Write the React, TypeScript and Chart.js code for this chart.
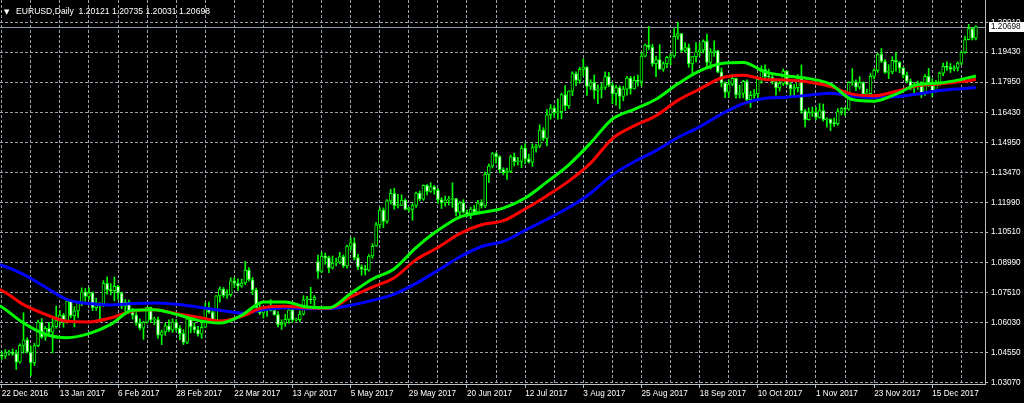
import React, { useEffect, useRef } from "react";
import { Chart, registerables } from "chart.js";

Chart.register(...registerables);

// ---------- DATA ----------
const symbolTitle = "EURUSD,Daily";

// date labels shown every 16 bars (first bar = 22 Dec 2016)
const xLabels = [
  "22 Dec 2016", "13 Jan 2017", "6 Feb 2017", "28 Feb 2017", "22 Mar 2017", "13 Apr 2017",
  "5 May 2017", "29 May 2017", "20 Jun 2017", "12 Jul 2017", "3 Aug 2017", "25 Aug 2017",
  "18 Sep 2017", "10 Oct 2017", "1 Nov 2017", "23 Nov 2017", "15 Dec 2017",
];
const barsPerLabel = 16;
const barsPerGrid = 8;

const yTickLabels = [
  "1.03070", "1.04550", "1.06030", "1.07510", "1.08990", "1.10510", "1.11990",
  "1.13470", "1.14950", "1.16430", "1.17950", "1.19430", "1.20910",
];

const opens = [
  1.0440, 1.0437, 1.0453, 1.0456, 1.0449, 1.0407, 1.0490, 1.0517, 1.0457, 1.0404,
  1.0489, 1.0605, 1.0531, 1.0574, 1.0556, 1.0583, 1.0613, 1.0640, 1.0605, 1.0710,
  1.0637, 1.0661, 1.0703, 1.0755, 1.0733, 1.0751, 1.0677, 1.0697, 1.0696, 1.0798,
  1.0765, 1.0761, 1.0783, 1.0749, 1.0684, 1.0703, 1.0655, 1.0640, 1.0600, 1.0575,
  1.0605, 1.0678, 1.0616, 1.0618, 1.0540, 1.0557, 1.0587, 1.0565, 1.0605, 1.0574,
  1.0548, 1.0505, 1.0622, 1.0583, 1.0567, 1.0545, 1.0580, 1.0671, 1.0655, 1.0604,
  1.0735, 1.0769, 1.0737, 1.0741, 1.0810, 1.0798, 1.0783, 1.0799, 1.0863, 1.0815,
  1.0765, 1.0677, 1.0650, 1.0667, 1.0674, 1.0662, 1.0642, 1.0592, 1.0600, 1.0619,
  1.0666, 1.0615, 1.0617, 1.0645, 1.0716, 1.0717, 1.0715, 1.0905, 1.0857, 1.0932,
  1.0925, 1.0874, 1.0898, 1.0902, 1.0930, 1.0884, 1.0982, 1.0998, 1.0925, 1.0877,
  1.0869, 1.0863, 1.0933, 1.0981, 1.1087, 1.1160, 1.1104, 1.1206, 1.1243, 1.1182,
  1.1184, 1.1210, 1.1164, 1.1164, 1.1183, 1.1245, 1.1214, 1.1283, 1.1253, 1.1277,
  1.1260, 1.1212, 1.1196, 1.1210, 1.1214, 1.1217, 1.1150, 1.1197, 1.1150, 1.1133,
  1.1165, 1.1151, 1.1196, 1.1181, 1.1337, 1.1379, 1.1441, 1.1425, 1.1361, 1.1346,
  1.1352, 1.1424, 1.1400, 1.1401, 1.1468, 1.1414, 1.1398, 1.1470, 1.1478, 1.1557,
  1.1516, 1.1633, 1.1666, 1.1643, 1.1648, 1.1733, 1.1677, 1.1750, 1.1837, 1.1803,
  1.1858, 1.1869, 1.1773, 1.1792, 1.1754, 1.1760, 1.1768, 1.1822, 1.1780, 1.1737,
  1.1768, 1.1724, 1.1760, 1.1814, 1.1761, 1.1803, 1.1798, 1.1923, 1.1978, 1.1968,
  1.1886, 1.1906, 1.1859, 1.1886, 1.1917, 1.1925, 1.2022, 1.2035, 1.1952, 1.1966,
  1.1885, 1.1921, 1.1945, 1.1953, 1.1997, 1.1892, 1.1943, 1.1950, 1.1845, 1.1791,
  1.1745, 1.1785, 1.1813, 1.1732, 1.1738, 1.1799, 1.1708, 1.1729, 1.1737, 1.1808,
  1.1858, 1.1822, 1.1820, 1.1796, 1.1766, 1.1788, 1.1849, 1.1783, 1.1761, 1.1767,
  1.1813, 1.1652, 1.1609, 1.1644, 1.1646, 1.1620, 1.1654, 1.1608, 1.1610, 1.1590,
  1.1589, 1.1649, 1.1664, 1.1660, 1.1794, 1.1796, 1.1770, 1.1792, 1.1735, 1.1737,
  1.1823, 1.1853, 1.1934, 1.1897, 1.1843, 1.1845, 1.1903, 1.1893, 1.1865, 1.1829,
  1.1798, 1.1771, 1.1774, 1.1780, 1.1742, 1.1823, 1.1780, 1.1749, 1.1784, 1.1839,
  1.1873, 1.1868, 1.1859, 1.1865, 1.1889, 1.1942, 1.2005, 1.2060, 1.20121,
];

const highs = [
  1.0460, 1.0469, 1.0465, 1.0472, 1.0467, 1.0498, 1.0652, 1.0528, 1.0485, 1.0500,
  1.0615, 1.0623, 1.0584, 1.0604, 1.0629, 1.0685, 1.0663, 1.0648, 1.0718, 1.0714,
  1.0682, 1.0708, 1.0775, 1.0772, 1.0775, 1.0755, 1.0724, 1.0701, 1.0811, 1.0829,
  1.0796, 1.0829, 1.0788, 1.0754, 1.0717, 1.0715, 1.0674, 1.0652, 1.0621, 1.0609,
  1.0679, 1.0680, 1.0630, 1.0630, 1.0566, 1.0600, 1.0617, 1.0622, 1.0618, 1.0588,
  1.0568, 1.0630, 1.0623, 1.0601, 1.0584, 1.0615, 1.0700, 1.0704, 1.0668, 1.0737,
  1.0780, 1.0777, 1.0765, 1.0825, 1.0826, 1.0820, 1.0818, 1.0906, 1.0875, 1.0827,
  1.0774, 1.0692, 1.0680, 1.0677, 1.0717, 1.0687, 1.0658, 1.0617, 1.0644, 1.0673,
  1.0677, 1.0625, 1.0661, 1.0736, 1.0733, 1.0778, 1.0737, 1.0937, 1.0951, 1.0947,
  1.0932, 1.0933, 1.0923, 1.0951, 1.0938, 1.0987, 1.1022, 1.1023, 1.0941, 1.0889,
  1.0887, 1.0940, 1.0994, 1.1100, 1.1172, 1.1171, 1.1213, 1.1264, 1.1268, 1.1238,
  1.1236, 1.1216, 1.1174, 1.1193, 1.1250, 1.1255, 1.1285, 1.1287, 1.1296, 1.1282,
  1.1268, 1.1222, 1.1230, 1.1228, 1.1296, 1.1219, 1.1204, 1.1212, 1.1162, 1.1175,
  1.1183, 1.1209, 1.1212, 1.1349, 1.1389, 1.1446, 1.1445, 1.1430, 1.1370, 1.1369,
  1.1433, 1.1443, 1.1422, 1.1480, 1.1490, 1.1438, 1.1489, 1.1486, 1.1583, 1.1569,
  1.1658, 1.1683, 1.1678, 1.1712, 1.1740, 1.1777, 1.1752, 1.1846, 1.1845, 1.1868,
  1.1910, 1.1871, 1.1806, 1.1830, 1.1781, 1.1789, 1.1846, 1.1843, 1.1792, 1.1779,
  1.1776, 1.1774, 1.1823, 1.1823, 1.1823, 1.1829, 1.1941, 1.1983, 1.2070, 1.1982,
  1.1924, 1.1980, 1.1895, 1.1922, 1.1937, 1.2060, 1.2092, 1.2036, 1.1991, 1.1983,
  1.1922, 1.1990, 1.1990, 1.2004, 1.2033, 1.1960, 1.1999, 1.1952, 1.1865, 1.1796,
  1.1807, 1.1833, 1.1815, 1.1779, 1.1803, 1.1806, 1.1749, 1.1758, 1.1820, 1.1875,
  1.1880, 1.1859, 1.1838, 1.1806, 1.1805, 1.1860, 1.1850, 1.1792, 1.1782, 1.1832,
  1.1880, 1.1660, 1.1667, 1.1671, 1.1670, 1.1688, 1.1686, 1.1617, 1.1613, 1.1616,
  1.1663, 1.1668, 1.1670, 1.1797, 1.1861, 1.1806, 1.1822, 1.1796, 1.1760, 1.1837,
  1.1861, 1.1937, 1.1961, 1.1906, 1.1881, 1.1921, 1.1941, 1.1897, 1.1868, 1.1844,
  1.1810, 1.1794, 1.1800, 1.1797, 1.1832, 1.1862, 1.1811, 1.1803, 1.1845, 1.1889,
  1.1895, 1.1887, 1.1876, 1.1895, 1.1946, 1.2023, 1.2081, 1.2066, 1.20735,
];

const lows = [
  1.0420, 1.0425, 1.0441, 1.0440, 1.0371, 1.0402, 1.0452, 1.0453, 1.0340, 1.0390,
  1.0483, 1.0524, 1.0515, 1.0540, 1.0453, 1.0575, 1.0592, 1.0580, 1.0600, 1.0627,
  1.0582, 1.0629, 1.0686, 1.0709, 1.0718, 1.0662, 1.0663, 1.0618, 1.0683, 1.0744,
  1.0740, 1.0710, 1.0718, 1.0672, 1.0646, 1.0650, 1.0620, 1.0590, 1.0566, 1.0520,
  1.0600, 1.0604, 1.0592, 1.0525, 1.0494, 1.0540, 1.0558, 1.0554, 1.0560, 1.0518,
  1.0494, 1.0499, 1.0552, 1.0553, 1.0536, 1.0525, 1.0580, 1.0648, 1.0600, 1.0600,
  1.0704, 1.0728, 1.0723, 1.0733, 1.0778, 1.0761, 1.0778, 1.0791, 1.0808, 1.0741,
  1.0674, 1.0642, 1.0625, 1.0633, 1.0660, 1.0639, 1.0581, 1.0569, 1.0584, 1.0600,
  1.0606, 1.0610, 1.0608, 1.0640, 1.0687, 1.0697, 1.0680, 1.0822, 1.0850, 1.0892,
  1.0850, 1.0868, 1.0884, 1.0894, 1.0875, 1.0872, 1.0960, 1.0913, 1.0865, 1.0838,
  1.0839, 1.0858, 1.0922, 1.0980, 1.1070, 1.1074, 1.1095, 1.1190, 1.1164, 1.1171,
  1.1183, 1.1161, 1.1153, 1.1110, 1.1174, 1.1207, 1.1209, 1.1235, 1.1248, 1.1239,
  1.1194, 1.1168, 1.1180, 1.1185, 1.1174, 1.1131, 1.1132, 1.1146, 1.1130, 1.1118,
  1.1137, 1.1148, 1.1170, 1.1173, 1.1297, 1.1369, 1.1393, 1.1345, 1.1335, 1.1312,
  1.1347, 1.1379, 1.1384, 1.1371, 1.1391, 1.1394, 1.1376, 1.1447, 1.1471, 1.1505,
  1.1478, 1.1611, 1.1621, 1.1611, 1.1613, 1.1653, 1.1664, 1.1728, 1.1777, 1.1789,
  1.1826, 1.1729, 1.1758, 1.1712, 1.1688, 1.1716, 1.1757, 1.1772, 1.1688, 1.1680,
  1.1662, 1.1702, 1.1730, 1.1735, 1.1760, 1.1775, 1.1774, 1.1920, 1.1955, 1.1873,
  1.1822, 1.1857, 1.1848, 1.1866, 1.1880, 1.1916, 1.2007, 1.1944, 1.1943, 1.1868,
  1.1838, 1.1895, 1.1924, 1.1939, 1.1862, 1.1860, 1.1922, 1.1840, 1.1771, 1.1717,
  1.1720, 1.1777, 1.1715, 1.1715, 1.1717, 1.1696, 1.1669, 1.1714, 1.1716, 1.1789,
  1.1810, 1.1814, 1.1785, 1.1730, 1.1750, 1.1777, 1.1780, 1.1717, 1.1725, 1.1747,
  1.1640, 1.1573, 1.1606, 1.1625, 1.1608, 1.1616, 1.1601, 1.1573, 1.1554, 1.1575,
  1.1580, 1.1632, 1.1629, 1.1655, 1.1778, 1.1752, 1.1760, 1.1722, 1.1715, 1.1730,
  1.1810, 1.1843, 1.1892, 1.1838, 1.1812, 1.1835, 1.1849, 1.1841, 1.1815, 1.1790,
  1.1756, 1.1729, 1.1758, 1.1718, 1.1729, 1.1772, 1.1723, 1.1745, 1.1778, 1.1826,
  1.1853, 1.1842, 1.1850, 1.1850, 1.1880, 1.1937, 1.2004, 1.2003, 1.20031,
];

const closes = [
  1.0437, 1.0453, 1.0456, 1.0449, 1.0407, 1.0490, 1.0517, 1.0457, 1.0404, 1.0489,
  1.0605, 1.0531, 1.0574, 1.0556, 1.0583, 1.0613, 1.0640, 1.0605, 1.0710, 1.0637,
  1.0661, 1.0703, 1.0755, 1.0733, 1.0751, 1.0677, 1.0697, 1.0696, 1.0798, 1.0765,
  1.0761, 1.0783, 1.0749, 1.0684, 1.0703, 1.0655, 1.0640, 1.0600, 1.0575, 1.0605,
  1.0678, 1.0616, 1.0618, 1.0540, 1.0557, 1.0587, 1.0565, 1.0605, 1.0574, 1.0548,
  1.0505, 1.0622, 1.0583, 1.0567, 1.0545, 1.0580, 1.0671, 1.0655, 1.0604, 1.0735,
  1.0769, 1.0737, 1.0741, 1.0810, 1.0798, 1.0783, 1.0799, 1.0863, 1.0815, 1.0765,
  1.0677, 1.0650, 1.0667, 1.0674, 1.0662, 1.0642, 1.0592, 1.0600, 1.0619, 1.0666,
  1.0615, 1.0617, 1.0645, 1.0716, 1.0717, 1.0715, 1.0728, 1.0857, 1.0932, 1.0925,
  1.0874, 1.0898, 1.0902, 1.0930, 1.0884, 1.0982, 1.0998, 1.0925, 1.0877, 1.0869,
  1.0863, 1.0933, 1.0981, 1.1087, 1.1160, 1.1104, 1.1206, 1.1243, 1.1182, 1.1184,
  1.1210, 1.1164, 1.1164, 1.1183, 1.1245, 1.1214, 1.1283, 1.1253, 1.1277, 1.1260,
  1.1212, 1.1196, 1.1210, 1.1214, 1.1217, 1.1150, 1.1197, 1.1150, 1.1133, 1.1165,
  1.1151, 1.1196, 1.1181, 1.1337, 1.1379, 1.1441, 1.1425, 1.1361, 1.1346, 1.1352,
  1.1424, 1.1400, 1.1401, 1.1468, 1.1414, 1.1398, 1.1470, 1.1478, 1.1557, 1.1516,
  1.1633, 1.1666, 1.1643, 1.1648, 1.1733, 1.1677, 1.1750, 1.1837, 1.1803, 1.1858,
  1.1869, 1.1773, 1.1792, 1.1754, 1.1760, 1.1768, 1.1822, 1.1780, 1.1737, 1.1768,
  1.1724, 1.1760, 1.1814, 1.1761, 1.1803, 1.1798, 1.1923, 1.1978, 1.1968, 1.1886,
  1.1906, 1.1859, 1.1886, 1.1917, 1.1925, 1.2022, 1.2035, 1.1952, 1.1966, 1.1885,
  1.1921, 1.1945, 1.1953, 1.1997, 1.1892, 1.1943, 1.1950, 1.1845, 1.1791, 1.1745,
  1.1785, 1.1813, 1.1732, 1.1738, 1.1799, 1.1708, 1.1729, 1.1737, 1.1808, 1.1858,
  1.1822, 1.1820, 1.1796, 1.1766, 1.1788, 1.1849, 1.1783, 1.1761, 1.1767, 1.1813,
  1.1652, 1.1609, 1.1644, 1.1646, 1.1620, 1.1654, 1.1608, 1.1610, 1.1590, 1.1589,
  1.1649, 1.1664, 1.1660, 1.1794, 1.1796, 1.1770, 1.1792, 1.1735, 1.1737, 1.1823,
  1.1853, 1.1934, 1.1897, 1.1843, 1.1845, 1.1903, 1.1893, 1.1865, 1.1829, 1.1798,
  1.1771, 1.1774, 1.1780, 1.1742, 1.1823, 1.1780, 1.1749, 1.1784, 1.1839, 1.1873,
  1.1868, 1.1859, 1.1865, 1.1889, 1.1942, 1.2005, 1.2060, 1.2012, 1.20698,
];

// moving averages at these bar numbers
const maBars = [
  -1, 0, 6, 12, 18, 24, 30, 36, 42, 48, 54, 60, 66, 72, 78, 84, 90, 96, 102, 108,
  114, 120, 126, 132, 138, 144, 150, 156, 162, 168, 174, 180, 186, 192, 198, 204,
  210, 216, 222, 228, 234, 240, 246, 252, 258, 264, 268,
];
const maBlue = [
  1.0892, 1.0887, 1.0842, 1.0779, 1.0717, 1.0697, 1.0690, 1.0697, 1.0700, 1.0694,
  1.0680, 1.0664, 1.0650, 1.0667, 1.0677, 1.0672, 1.0672, 1.0689, 1.0713, 1.0744,
  1.0797, 1.0862, 1.0928, 1.0980, 1.1005, 1.1060, 1.1115, 1.1173, 1.1244, 1.1335,
  1.1400, 1.1455, 1.1520, 1.1573, 1.1636, 1.1688, 1.1715, 1.1720, 1.1730, 1.1740,
  1.1726, 1.1718, 1.1722, 1.1736, 1.1753, 1.1762, 1.1768,
];
const maRed = [
  1.0768, 1.0763, 1.0692, 1.0644, 1.0609, 1.0606, 1.0626, 1.0660, 1.0667, 1.0647,
  1.0630, 1.0611, 1.0634, 1.0677, 1.0684, 1.0677, 1.0674, 1.0730, 1.0779, 1.0825,
  1.0915, 1.0975, 1.1044, 1.1088, 1.1108, 1.1166, 1.1232, 1.1304, 1.1393, 1.1515,
  1.1578, 1.1628, 1.1704, 1.1760, 1.1815, 1.1828, 1.1808, 1.1805, 1.1795, 1.1772,
  1.1735, 1.1727, 1.1749, 1.1776, 1.1785, 1.1797, 1.1808,
];
const maGreen = [
  1.0689, 1.0680, 1.0601, 1.0545, 1.0528, 1.0548, 1.0594, 1.0664, 1.0667, 1.0644,
  1.0614, 1.0601, 1.0639, 1.0705, 1.0705, 1.0680, 1.0676, 1.0747, 1.0819, 1.0870,
  1.0975, 1.1060, 1.1126, 1.1148, 1.1170, 1.1220, 1.1300, 1.1385, 1.1493, 1.1612,
  1.1660, 1.1710, 1.1786, 1.1850, 1.1887, 1.1892, 1.1845, 1.1825, 1.1812, 1.1785,
  1.1708, 1.1700, 1.1735, 1.1783, 1.1790, 1.1808, 1.1825,
];

// ---------- STYLE ----------
const FONT = '"Liberation Sans", Arial, "DejaVu Sans", sans-serif';
const GRID = "#9aa3ad";
const AXIS = "#b8c0c8";
const LIME = "#00ff00";

const fmt = (v: number) => v.toFixed(5);

export default function App() {
  const ref = useRef<HTMLCanvasElement | null>(null);

  useEffect(() => {
    document.body.style.margin = "0";
    document.body.style.background = "#000";
    const canvas = ref.current;
    if (!canvas) return;

    const n = closes.length;
    const idx = closes.map((_, i) => i);
    const wickData = idx.map((i) => ({ x: i, y: [lows[i], highs[i]] }));
    const bodyData = idx.map((i) => ({ x: i, y: [opens[i], closes[i]] }));
    const bodyFill = idx.map((i) => (closes[i] >= opens[i] ? "#000000" : "#ffffff"));
    const maLine = (vals: number[]) => maBars.map((b, k) => ({ x: b, y: vals[k] }));
    const gridBars: number[] = [];
    for (let b = 0; b < n; b += barsPerGrid) gridBars.push(b);
    const yTickValues = yTickLabels.map((s) => parseFloat(s));

    const overlay = {
      id: "mt4Overlay",
      beforeDatasetsDraw(chart: any) {
        const { ctx, chartArea, scales } = chart;
        const py = Math.round(scales.y.getPixelForValue(closes[n - 1])) + 0.5;
        ctx.save();
        ctx.strokeStyle = "#8d99a6";
        ctx.lineWidth = 1;
        ctx.beginPath();
        ctx.moveTo(chartArea.left, py);
        ctx.lineTo(chartArea.right, py);
        ctx.stroke();
        ctx.restore();
      },
      afterDraw(chart: any) {
        const { ctx, chartArea, scales } = chart;
        const last = n - 1;
        ctx.save();
        ctx.fillStyle = "#ffffff";
        ctx.textBaseline = "alphabetic";
        ctx.font = `7px "DejaVu Sans", sans-serif`;
        ctx.fillText("\u25BC", 4, 13.5);
        ctx.font = `8.6px ${FONT}`;
        ctx.fillText(
          `${symbolTitle}  ${fmt(opens[last])} ${fmt(highs[last])} ${fmt(lows[last])} ${fmt(closes[last])}`,
          16,
          14
        );
        const py = scales.y.getPixelForValue(closes[last]);
        ctx.font = `8.2px ${FONT}`;
        ctx.fillStyle = "#ffffff";
        ctx.fillRect(chartArea.right + 4, Math.round(py) - 5, 36, 10);
        ctx.fillStyle = "#000000";
        ctx.textBaseline = "middle";
        ctx.fillText(fmt(closes[last]), chartArea.right + 6, py + 0.5);
        ctx.restore();
      },
    };

    const chart = new Chart(canvas, {
      type: "bar",
      data: {
        datasets: [
          {
            type: "line",
            label: "MA fast",
            data: maLine(maGreen),
            borderColor: LIME,
            borderWidth: 3,
            pointRadius: 0,
            cubicInterpolationMode: "monotone",
            order: 0,
          } as any,
          {
            type: "line",
            label: "MA mid",
            data: maLine(maRed),
            borderColor: "#ff0000",
            borderWidth: 3,
            pointRadius: 0,
            cubicInterpolationMode: "monotone",
            order: 1,
          } as any,
          {
            type: "line",
            label: "MA slow",
            data: maLine(maBlue),
            borderColor: "#0000ff",
            borderWidth: 3,
            pointRadius: 0,
            cubicInterpolationMode: "monotone",
            order: 2,
          } as any,
          {
            type: "bar",
            label: "body",
            data: bodyData,
            backgroundColor: bodyFill,
            borderColor: LIME,
            borderWidth: 1,
            borderSkipped: false,
            barThickness: 3,
            minBarLength: 1,
            grouped: false,
            order: 3,
          } as any,
          {
            type: "bar",
            label: "wick",
            data: wickData,
            backgroundColor: LIME,
            borderWidth: 0,
            barThickness: 1,
            grouped: false,
            order: 4,
          } as any,
        ],
      },
      options: {
        animation: false,
        responsive: true,
        maintainAspectRatio: false,
        devicePixelRatio: 1,
        events: [],
        layout: { padding: 0 },
        plugins: { legend: { display: false }, tooltip: { enabled: false } },
        scales: {
          x: {
            type: "linear",
            min: -0.47,
            max: 270.5,
            offset: false,
            afterBuildTicks: (s: any) => {
              s.ticks = gridBars.map((v) => ({ value: v }));
            },
            afterFit: (s: any) => {
              s.height = 19;
              s.paddingLeft = 0;
              s.paddingRight = 0;
            },
            grid: {
              color: GRID,
              lineWidth: 1,
              offset: false,
              drawTicks: true,
              tickLength: 4,
              tickColor: (c: any) =>
                c.tick && c.tick.value % barsPerLabel === 0 ? AXIS : "rgba(0,0,0,0)",
            },
            border: { display: true, color: AXIS, dash: [3, 2] },
            ticks: {
              autoSkip: false,
              maxRotation: 0,
              minRotation: 0,
              align: "start",
              padding: 1,
              color: "#ffffff",
              font: { family: FONT, size: 8.2 },
              callback: (v: any) =>
                v % barsPerLabel === 0 ? xLabels[v / barsPerLabel] || "" : "",
            },
          },
          y: {
            type: "linear",
            position: "right",
            min: 1.02986,
            max: 1.22015,
            afterBuildTicks: (s: any) => {
              s.ticks = yTickValues.map((v) => ({ value: v }));
            },
            afterFit: (s: any) => {
              s.width = 39;
              s.paddingTop = 0;
              s.paddingBottom = 0;
            },
            grid: { color: GRID, lineWidth: 1, tickLength: 3, tickColor: AXIS },
            border: { display: true, color: AXIS, dash: [3, 2] },
            ticks: {
              padding: 3,
              color: "#ffffff",
              font: { family: FONT, size: 8.2 },
              callback: (_v: any, i: number) => yTickLabels[i],
            },
          },
        },
      } as any,
      plugins: [overlay],
    });

    return () => chart.destroy();
  }, []);

  return (
    <div style={{ width: 1024, height: 403, position: "relative", background: "#000" }}>
      <canvas ref={ref} />
    </div>
  );
}
